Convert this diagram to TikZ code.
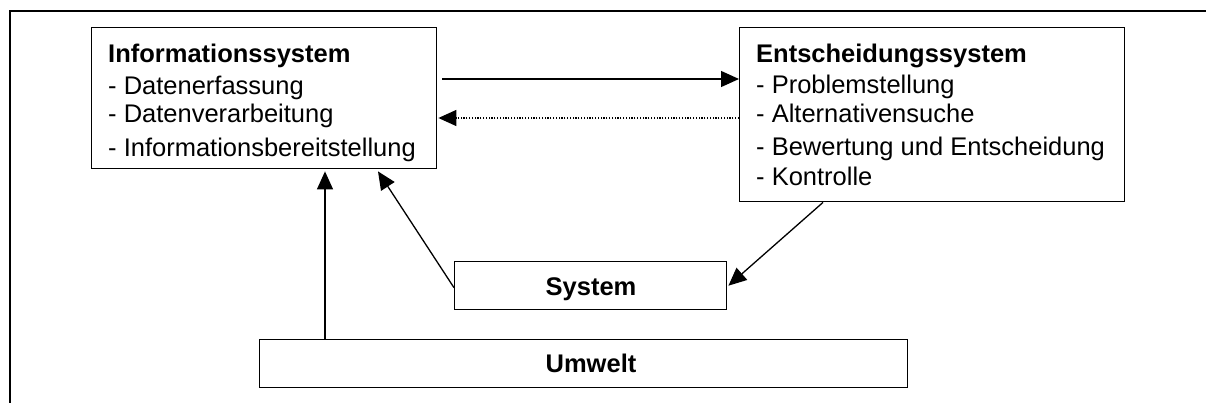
\documentclass[tikz,border=0pt]{standalone}
\usepackage{fontspec}
\setmainfont{Liberation Sans}
\usetikzlibrary{arrows.meta,calc}

\tikzset{
  box/.style={draw=black, line width=1.4pt, fill=none, inner sep=0pt, anchor=north west},
  txt/.style={anchor=base west, inner sep=0pt, font=\fontsize{25.5}{31}\selectfont},
  head/.style={txt, font=\fontsize{25.5}{31}\selectfont\bfseries},
  flow/.style={line width=1.3pt, -{Triangle[length=18pt,width=16pt]}},
  back/.style={flow, dash pattern=on 1.2pt off 1.6pt},
}

\begin{document}
\begin{tikzpicture}[x=1pt,y=-1pt]
\useasboundingbox (0,0) rectangle (1206,403);

% frame (open towards right and bottom)
\coordinate (fbl) at (10,410);
\coordinate (ftl) at (10,11);
\coordinate (ftr) at (1215,11);
\draw[line width=2.2pt] (fbl) -- (ftl) -- (ftr);

% boxes
\node[box, minimum width=345pt, minimum height=141pt] (info) at (91,27) {};
\node[box, minimum width=385pt, minimum height=174pt] (ent)  at (739,27) {};
\node[box, minimum width=272pt, minimum height=48pt]  (sys)  at (454,261) {};
\node[box, minimum width=648pt, minimum height=48pt]  (umw)  at (259,339) {};

% information system text
\node[head] (i0) at (108,62.7)  {Informationssystem};
\node[txt]  (i1) at (108,94.3)  {- Datenerfassung};
\node[txt]  (i2) at (108,122.7) {- Datenverarbeitung};
\node[txt]  (i3) at (108,156.7) {- Informationsbereitstellung};

% decision system text
\node[head] (e0) at (756,62.3)  {Entscheidungssystem};
\node[txt]  (e1) at (756,93.3)  {- Problemstellung};
\node[txt]  (e2) at (756,122.7) {- Alternativensuche};
\node[txt]  (e3) at (756,156)   {- Bewertung und Entscheidung};
\node[txt]  (e4) at (756,185.5) {- Kontrolle};

% labels of the lower boxes
\node[head, anchor=base] (sl) at (591,295)   {System};
\node[head, anchor=base] (ul) at (591,372.7) {Umwelt};

% connectors
\draw[flow] ([shift={(5,52)}]info.north east) -- ([shift={(0,52)}]ent.north west);
\draw[back] ([shift={(0,91)}]ent.north west) -- ([shift={(1,91)}]info.north east);
\draw[flow] ([xshift=66pt]umw.north west) -- ([shift={(234,2)}]info.south west);
\draw[flow] ([yshift=-2pt]sys.west) -- ([shift={(287,2)}]info.south west);
\draw[flow] ([xshift=84pt]ent.south west) -- ([xshift=1pt]sys.east);

\end{tikzpicture}
\end{document}
